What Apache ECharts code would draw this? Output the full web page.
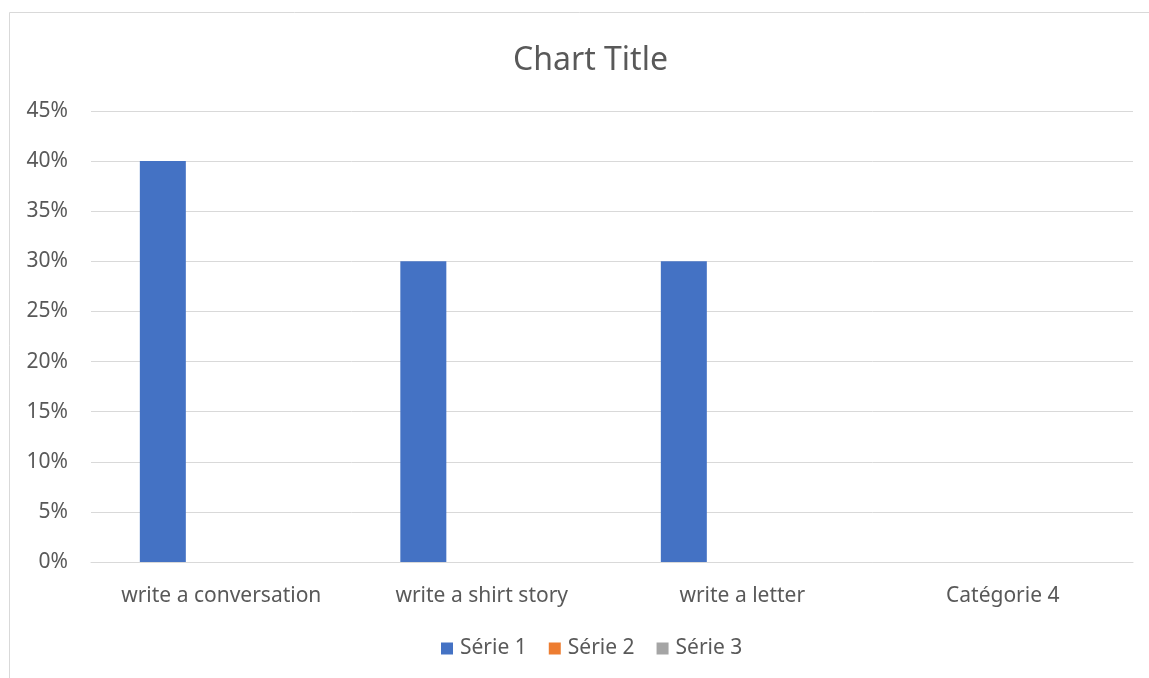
<!DOCTYPE html>
<html>
<head>
<meta charset="utf-8">
<script src="https://cdn.jsdelivr.net/npm/echarts@6/dist/echarts.min.js"></script>
<style>
  html, body { margin: 0; padding: 0; background: #fff; }
  #chart { width: 1149px; height: 678px; }
</style>
</head>
<body>
<div id="chart"></div>
<script>
// Categories and series values (fractions, shown as percentages)
const categories = ['write a conversation', 'write a shirt story', 'write a letter', 'Catégorie 4'];
const serie1 = [0.40, 0.30, 0.30, null];
const serie2 = [null, null, null, null];
const serie3 = [null, null, null, null];
const seriesNames = ['Série 1', 'Série 2', 'Série 3'];
const seriesColors = ['#4472C4', '#ED7D31', '#A5A5A5'];
const yTicks = { min: 0, max: 0.45, step: 0.05 };

const FONT = '"Noto Sans", "Open Sans", sans-serif';
const TEXT = '#595959';
const GRID_LINE = '#D9D9D9';

const chart = echarts.init(document.getElementById('chart'), null, { renderer: 'canvas' });

const seriesData = [serie1, serie2, serie3];

chart.setOption({
  backgroundColor: '#fff',
  animation: false,
  textStyle: { fontFamily: FONT },
  graphic: [{
    type: 'rect',
    silent: true,
    shape: { x: 9.5, y: 12.5, width: 1300, height: 800 },
    style: { fill: 'none', stroke: '#D9D9D9', lineWidth: 1 },
    z: -1
  }],
  title: {
    text: 'Chart Title',
    left: 508,
    top: 40,
    textStyle: { fontFamily: FONT, fontSize: 32, fontWeight: 'normal', color: TEXT }
  },
  legend: {
    data: seriesNames,
    bottom: 14,
    left: 436,
    icon: 'rect',
    itemWidth: 12,
    itemHeight: 12,
    itemGap: 22,
    textStyle: { fontFamily: FONT, fontSize: 21, color: TEXT, padding: [0, 0, 0, 2] }
  },
  grid: { left: 91, right: 16, top: 111, bottom: 116 },
  xAxis: {
    type: 'category',
    data: categories,
    axisLine: { lineStyle: { color: GRID_LINE, width: 1 } },
    axisTick: { show: false },
    axisLabel: { fontFamily: FONT, fontSize: 21, color: TEXT, margin: 24, interval: 0 }
  },
  yAxis: {
    type: 'value',
    min: yTicks.min,
    max: yTicks.max,
    interval: yTicks.step,
    axisLine: { show: false },
    axisTick: { show: false },
    splitLine: { lineStyle: { color: GRID_LINE, width: 1 } },
    axisLabel: {
      fontFamily: FONT, fontSize: 21, color: TEXT, margin: 23,
      padding: [8, 0, 0, 0],
      formatter: v => Math.round(v * 100) + '%'
    }
  },
  series: seriesNames.map((name, i) => ({
    name,
    type: 'bar',
    data: seriesData[i],
    barWidth: 46,
    barGap: '27%',
    itemStyle: { color: seriesColors[i] }
  }))
});
</script>
</body>
</html>
